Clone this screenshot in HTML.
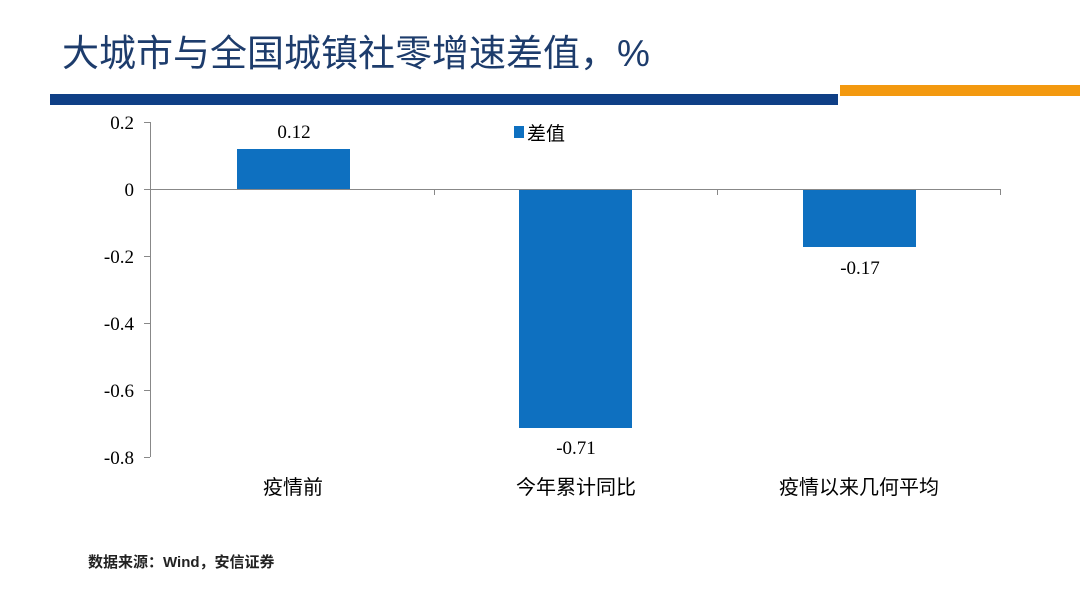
<!DOCTYPE html>
<html><head><meta charset="utf-8"><style>
body{margin:0;width:1080px;height:604px;background:#fff;overflow:hidden;position:relative;font-family:"Liberation Serif","Noto Serif CJK SC",serif}
.t{position:absolute;left:62px;top:32px;font-family:"Liberation Sans","Noto Sans CJK SC",sans-serif;font-size:37px;line-height:44px;color:#1d3c6c;white-space:nowrap}
.s{position:absolute;left:88px;top:551px;font-family:"Liberation Sans","Noto Sans CJK SC",sans-serif;font-size:15px;font-weight:bold;color:#222}
</style></head><body>
<div class="t">大城市与全国城镇社零增速差值，%</div>
<div style="position:absolute;left:50px;top:94px;width:788px;height:11px;background:#0f3f86"></div>
<div style="position:absolute;left:840px;top:85px;width:240px;height:11px;background:#f3990f"></div>
<svg width="1080" height="604" style="position:absolute;left:0;top:0" font-family="Liberation Serif, Noto Serif CJK SC, serif" font-size="19">
<g stroke="#888" stroke-width="1">
<line x1="150.5" y1="122" x2="150.5" y2="457"/>
<line x1="150" y1="189.5" x2="1000" y2="189.5"/>
<line x1="144" y1="122.5" x2="150" y2="122.5"/>
<line x1="144" y1="189.5" x2="150" y2="189.5"/>
<line x1="144" y1="256.5" x2="150" y2="256.5"/>
<line x1="144" y1="323.5" x2="150" y2="323.5"/>
<line x1="144" y1="390.5" x2="150" y2="390.5"/>
<line x1="144" y1="457.5" x2="150" y2="457.5"/>
<line x1="434.5" y1="189" x2="434.5" y2="195"/>
<line x1="717.5" y1="189" x2="717.5" y2="195"/>
<line x1="1000.5" y1="189" x2="1000.5" y2="195"/>
</g>
<g text-anchor="end" fill="#000">
<text x="134" y="129">0.2</text><text x="134" y="196">0</text><text x="134" y="263">-0.2</text>
<text x="134" y="330">-0.4</text><text x="134" y="397">-0.6</text><text x="134" y="464">-0.8</text>
</g>
<g fill="#0e70c0">
<rect x="237" y="149" width="113" height="40"/>
<rect x="519" y="190" width="113" height="238"/>
<rect x="803" y="190" width="113" height="57"/>
<rect x="514" y="126" width="10" height="12"/>
</g>
<text x="527" y="140" font-size="19" font-family="Liberation Sans, Noto Sans CJK SC, sans-serif">差值</text>
<g text-anchor="middle" fill="#000">
<text x="294" y="138">0.12</text>
<text x="576" y="454">-0.71</text>
<text x="860" y="274">-0.17</text>
<g font-family="Liberation Sans, Noto Sans CJK SC, sans-serif" font-size="20">
<text x="293" y="494">疫情前</text>
<text x="576" y="494">今年累计同比</text>
<text x="859" y="494">疫情以来几何平均</text>
</g></g>
</svg>
<div class="s">数据来源：Wind，安信证券</div>
</body></html>
